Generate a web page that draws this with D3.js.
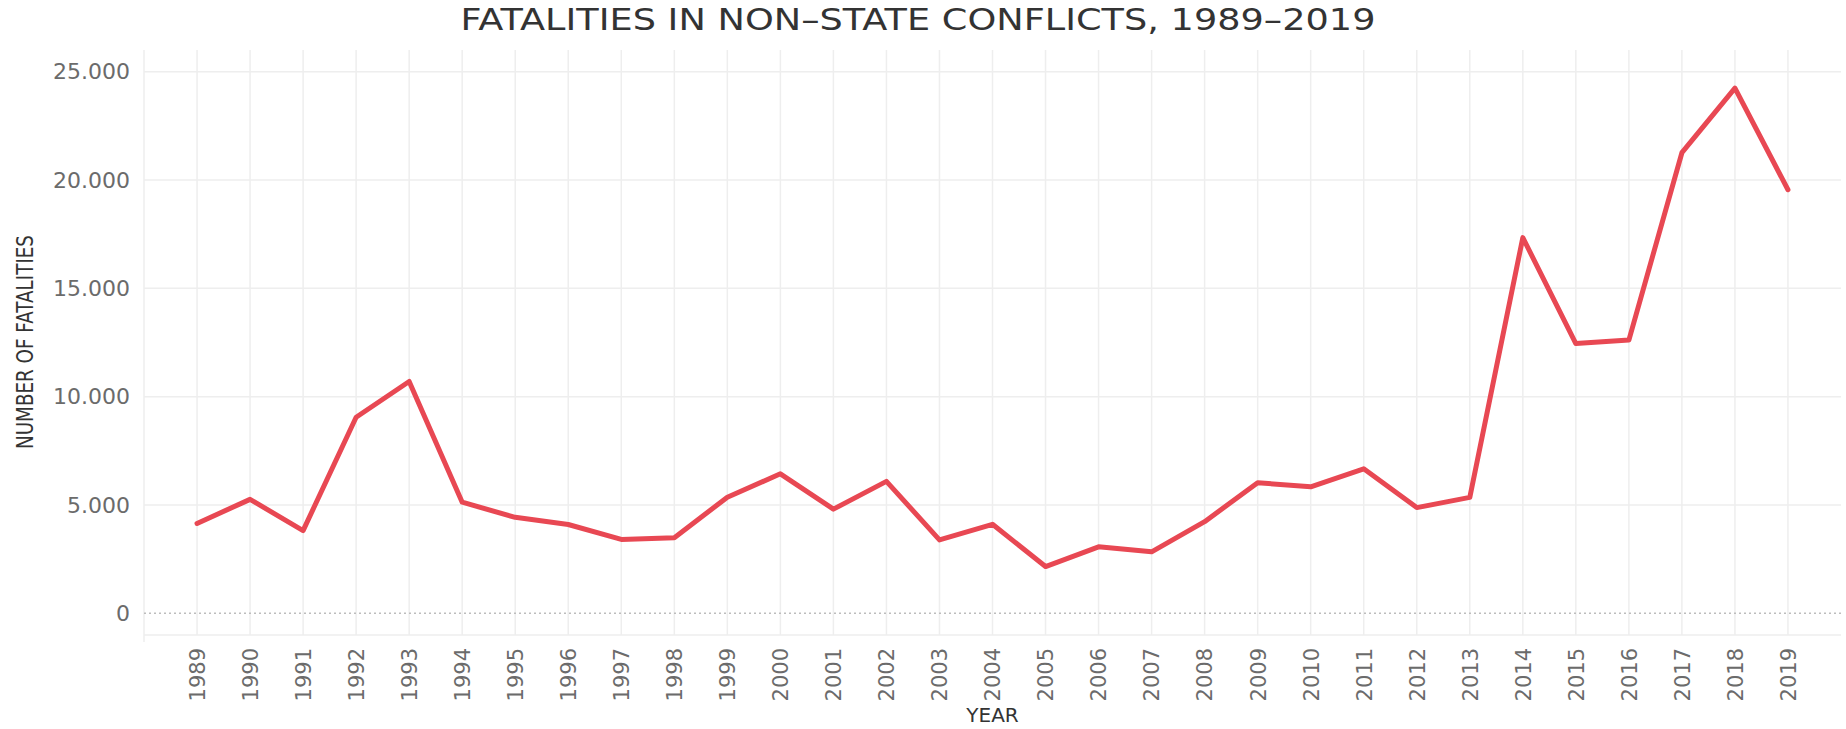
<!DOCTYPE html>
<html>
<head>
<meta charset="utf-8">
<script src="https://cdn.jsdelivr.net/npm/d3@7"></script>
<style>
  body { margin: 0; background: #fff; }
  svg text { font-family: 'DejaVu Sans', Verdana, sans-serif; }
</style>
</head>
<body>
<div id="viz"></div>
<script>
var years = [1989, 1990, 1991, 1992, 1993, 1994, 1995, 1996, 1997, 1998,
  1999, 2000, 2001, 2002, 2003, 2004, 2005, 2006, 2007, 2008,
  2009, 2010, 2011, 2012, 2013, 2014, 2015, 2016, 2017, 2018, 2019];

var fatalities = [4150, 5260, 3820, 9050, 10700, 5130, 4430, 4100, 3410, 3490,
  5360, 6440, 4810, 6090, 3390, 4110, 2160, 3070, 2840, 4230,
  6030, 5840, 6670, 4880, 5350, 17340, 12450, 12610, 21260, 24240, 19550];

var yTicks = [0, 5000, 10000, 15000, 20000, 25000];

var titleText = 'FATALITIES IN NON\u2013STATE CONFLICTS, 1989\u20132019';

var width = 1846,
    height = 729,
    padLeft = 144,
    padRight = 1841,
    padTop = 50,
    padBottom = 635;

var svg = d3.select('#viz')
  .append('svg')
    .attr('width', width)
    .attr('height', height)
    .style('background', '#fff');

var xScale = d3.scaleLinear()
    .domain([1988, 2020])
    .range([padLeft, padRight]);

var yScale = d3.scaleLinear()
    .domain([-1000, 26000])
    .range([padBottom, padTop]);

var fmt = d3.formatLocale({ decimal: ',', thousands: '.', grouping: [3], currency: ['', ''] }).format(',');

// grid
svg.append('g').selectAll('line').data(years)
  .enter().append('line')
    .attr('x1', function(d) { return xScale(d); })
    .attr('x2', function(d) { return xScale(d); })
    .attr('y1', padTop)
    .attr('y2', padBottom)
    .style('stroke', '#eeeeee')
    .style('stroke-width', 1.5);

svg.append('line')
  .attr('x1', xScale(1988)).attr('x2', xScale(1988))
  .attr('y1', padTop).attr('y2', padBottom + 7)
  .style('stroke', '#eeeeee')
  .style('stroke-width', 1.5);

svg.append('line')
  .attr('x1', padLeft).attr('x2', padRight)
  .attr('y1', padBottom).attr('y2', padBottom)
  .style('stroke', '#eeeeee')
  .style('stroke-width', 1.5);

svg.append('g').selectAll('line').data(yTicks)
  .enter().append('line')
    .attr('x1', padLeft)
    .attr('x2', padRight)
    .attr('y1', function(d) { return yScale(d); })
    .attr('y2', function(d) { return yScale(d); })
    .style('stroke', function(d) { return d === 0 ? '#bdbdbd' : '#eeeeee'; })
    .style('stroke-width', 1.5)
    .style('stroke-dasharray', function(d) { return d === 0 ? '2,3' : null; });

// y axis
var yAxis = svg.append('g')
  .attr('transform', 'translate(' + (padLeft - 14) + ',0)')
  .call(d3.axisLeft(yScale).tickValues(yTicks).tickSize(0).tickPadding(0).tickFormat(fmt));
yAxis.select('.domain').remove();
yAxis.selectAll('text')
  .style('font-size', '22px')
  .style('fill', '#6b6b6b');

// x axis
var xAxis = svg.append('g')
  .attr('transform', 'translate(0,' + padBottom + ')')
  .call(d3.axisBottom(xScale).tickValues(years).tickSize(0).tickFormat(d3.format('d')));
xAxis.select('.domain').remove();
xAxis.selectAll('text')
  .attr('transform', 'rotate(-90)')
  .attr('x', -13)
  .attr('y', 0)
  .attr('dy', '0.35em')
  .style('text-anchor', 'end')
  .style('font-size', '21px')
  .style('fill', '#6b6b6b');

// line
var line = d3.line()
  .x(function(d, i) { return xScale(years[i]); })
  .y(function(d) { return yScale(d); });

svg.append('path')
  .datum(fatalities)
  .attr('d', line)
  .style('fill', 'none')
  .style('stroke', '#e84853')
  .style('stroke-width', 5)
  .style('stroke-linejoin', 'round')
  .style('stroke-linecap', 'round');

// titles
svg.append('text')
  .attr('x', 918)
  .attr('y', 30)
  .attr('text-anchor', 'middle')
  .attr('textLength', 915)
  .attr('lengthAdjust', 'spacingAndGlyphs')
  .style('font-size', '30px')
  .style('fill', '#333')
  .text(titleText);

svg.append('text')
  .attr('transform', 'translate(33,342) rotate(-90)')
  .attr('text-anchor', 'middle')
  .attr('textLength', 214)
  .attr('lengthAdjust', 'spacingAndGlyphs')
  .style('font-size', '23px')
  .style('fill', '#333')
  .text('NUMBER OF FATALITIES');

svg.append('text')
  .attr('x', (padLeft + padRight) / 2)
  .attr('y', 722)
  .attr('text-anchor', 'middle')
  .style('font-size', '20px')
  .style('fill', '#333')
  .text('YEAR');
</script>
</body>
</html>
